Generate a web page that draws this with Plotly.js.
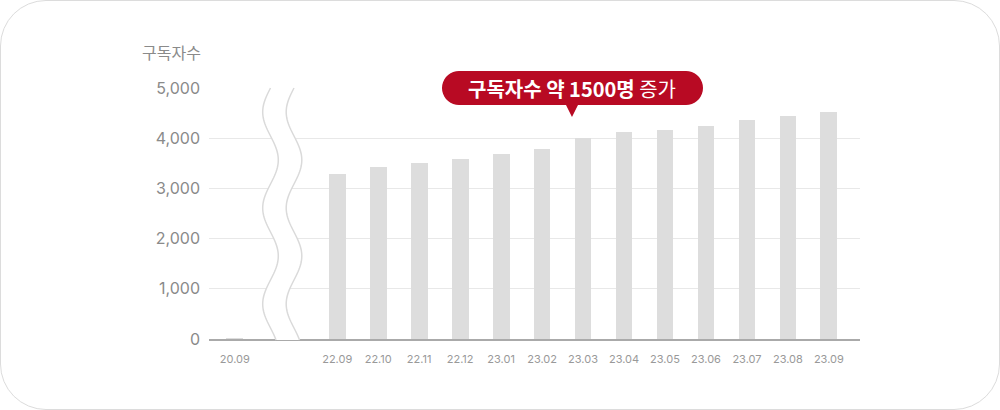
<!DOCTYPE html>
<html>
<head>
<meta charset="utf-8">
<script src="https://cdn.plot.ly/plotly-3.0.1.min.js"></script>
<style>
  html, body { margin: 0; padding: 0; background: #ffffff; }
  #wrap { position: relative; width: 1000px; height: 410px; }
  #chart { width: 1000px; height: 410px; }
  #frame { position: absolute; left: 0; top: 0; width: 1000px; height: 410px; box-sizing: border-box;
           border: 1px solid #dcdcdc; border-radius: 46px; pointer-events: none; }
</style>
</head>
<body>
<div id="wrap">
  <div id="chart"></div>
  <div id="frame"></div>
</div>
<script>
// ---- data ----
const months = ['20.09', '22.09', '22.10', '22.11', '22.12', '23.01', '23.02', '23.03', '23.04', '23.05', '23.06', '23.07', '23.08', '23.09'];
const subscribers = [25, 3290, 3425, 3505, 3585, 3685, 3785, 4000, 4125, 4165, 4245, 4365, 4445, 4525];
const yTickValues = [0, 1000, 2000, 3000, 4000, 5000];
const yTickLabels = ['0', '1,000', '2,000', '3,000', '4,000', '5,000'];
const axisTitle = '구독자수';
const calloutBold = '구독자수 약 1500명';
const calloutRest = '증가';

// ---- layout constants ----
const GAP = 1.5;                       // extra slots for the axis break after the first month
const xs = months.map((m, i) => i === 0 ? 0 : i + GAP);
const XR = [-0.63, 15.26];
const M = { l: 209, r: 140, t: 88, b: 71 };
const W = 1000, H = 410;
const PW = W - M.l - M.r, PH = H - M.t - M.b;
const px2x = p => (p - M.l) / PW;          // pixel -> paper x
const py2y = p => (H - M.b - p) / PH;      // pixel -> paper y

// wavy break path (paper coords)
function wave(cx, y0, y1, amp, period) {
  const pts = [];
  for (let y = y0; y <= y1 + 0.01; y += 2) {
    const x = cx - amp * Math.sin(2 * Math.PI * (y - 88) / period);
    pts.push([px2x(x), py2y(y)]);
  }
  return pts;
}
const waveA = wave(270.5, 88, 341, 7.8, 96);
const waveB = wave(294, 88, 341, 7.8, 96);
const toPath = pts => pts.map((p, i) => (i ? 'L' : 'M') + p[0].toFixed(5) + ',' + p[1].toFixed(5)).join(' ');
const fillPath = toPath(waveA) + ' ' + waveB.slice().reverse().map(p => 'L' + p[0].toFixed(5) + ',' + p[1].toFixed(5)).join(' ') + ' Z';

// callout pill (paper coords)
function pill(x0, x1, y0, y1) {
  const r = (y1 - y0) / 2, cy = (y0 + y1) / 2;
  const pts = [];
  for (let a = -90; a <= 90; a += 10) pts.push([x1 - r + r * Math.cos(a * Math.PI / 180), cy + r * Math.sin(a * Math.PI / 180)]);
  // pointer on bottom edge
  pts.push([578, y1], [572, 117], [566, y1]);
  for (let a = 90; a <= 270; a += 10) pts.push([x0 + r + r * Math.cos(a * Math.PI / 180), cy + r * Math.sin(a * Math.PI / 180)]);
  return pts.map((p, i) => (i ? 'L' : 'M') + px2x(p[0]).toFixed(5) + ',' + py2y(p[1]).toFixed(5)).join(' ') + ' Z';
}

const FONT = 'Inter, "Noto Sans CJK KR", sans-serif';
const KFONT = '"Noto Sans CJK KR", sans-serif';

const trace = {
  type: 'bar',
  x: xs,
  y: subscribers,
  width: 0.41,
  marker: { color: '#dddddd', line: { width: 0 } },
  hoverinfo: 'skip'
};

const layout = {
  width: W, height: H,
  margin: M,
  paper_bgcolor: 'rgba(0,0,0,0)',
  plot_bgcolor: 'rgba(0,0,0,0)',
  showlegend: false,
  bargap: 0,
  xaxis: {
    range: XR,
    tickmode: 'array',
    tickvals: xs,
    ticktext: months,
    showgrid: false,
    zeroline: false,
    showline: true,
    linecolor: '#aaaaaa',
    linewidth: 1.5,
    ticks: '',
    ticklabelstandoff: 9,
    tickfont: { family: FONT, size: 11, color: '#999999' },
    fixedrange: true
  },
  yaxis: {
    range: [0, 5000],
    tickmode: 'array',
    tickvals: yTickValues,
    ticktext: yTickLabels,
    showgrid: true,
    gridcolor: '#e8e8e8',
    gridwidth: 1,
    zeroline: false,
    showline: false,
    ticks: '',
    ticklabelstandoff: 8,
    tickfont: { family: FONT, size: 16, color: '#8a8a8a' },
    fixedrange: true
  },
  shapes: [
    { type: 'path', xref: 'paper', yref: 'paper', path: fillPath, fillcolor: '#ffffff', line: { width: 0 }, layer: 'above' },
    { type: 'path', xref: 'paper', yref: 'paper', path: toPath(waveA), line: { color: '#dadada', width: 1.5 }, layer: 'above' },
    { type: 'path', xref: 'paper', yref: 'paper', path: toPath(waveB), line: { color: '#dadada', width: 1.5 }, layer: 'above' },
    { type: 'path', xref: 'paper', yref: 'paper', path: pill(442, 703, 71, 105), fillcolor: '#b80a23', line: { width: 0 }, layer: 'above' }
  ],
  annotations: [
    {
      xref: 'paper', yref: 'paper', x: px2x(140), y: py2y(52), xanchor: 'left', yanchor: 'middle',
      text: axisTitle, showarrow: false,
      font: { family: KFONT, size: 16, color: '#8a8a8a' }
    },
    {
      xref: 'paper', yref: 'paper', x: px2x(572), y: py2y(88), xanchor: 'center', yanchor: 'middle',
      text: '<b>' + calloutBold + '</b> ' + calloutRest, showarrow: false,
      font: { family: KFONT, size: 20, color: '#ffffff' }
    }
  ]
};

Plotly.newPlot('chart', [trace], layout, { staticPlot: true, displayModeBar: false });
</script>
</body>
</html>
